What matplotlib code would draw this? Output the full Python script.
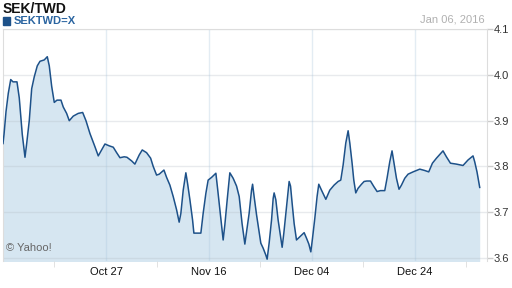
import matplotlib
matplotlib.use('Agg')
import matplotlib.pyplot as plt

# 交易日序号（从 Oct 07 起算）及 SEK/TWD 汇率
t = [0.0, 0.14, 0.41, 0.72, 1.05, 1.36, 1.90, 2.21, 2.62, 2.99, 3.22, 3.57,
     3.90, 4.25, 4.66, 5.03, 5.61, 6.02, 6.29, 6.62, 6.97, 7.34, 7.88, 8.19,
     8.65, 9.01, 9.55, 10.23, 10.83, 11.28, 11.82, 12.50, 12.95, 13.41, 13.86,
     14.44, 14.99, 15.45, 15.90, 16.48, 16.85, 17.49, 17.93, 18.52, 18.93,
     19.52, 20.07, 20.42, 20.88, 21.24, 21.88, 22.24, 22.69, 23.14, 23.60,
     23.95, 24.18, 24.50, 24.86, 25.09, 25.41, 25.77, 25.95, 26.90, 27.21,
     27.58, 27.89, 28.36, 28.94, 29.17, 29.48, 29.93, 30.16, 30.48, 30.84,
     31.29, 31.75, 32.11, 32.50, 32.88, 33.11, 33.46, 33.79, 33.93, 34.14,
     34.47, 34.82, 35.05, 35.37, 35.73, 35.91, 36.18, 36.51, 36.73, 36.86,
     37.09, 37.40, 37.73, 37.95, 38.18, 38.55, 38.90, 39.09, 39.31, 39.58,
     39.90, 40.35, 40.94, 41.26, 41.58, 41.85, 42.08, 42.39, 42.70, 42.93,
     43.30, 43.89, 44.43, 45.01, 45.56, 45.92, 46.24, 46.60, 46.92, 47.15,
     47.46, 47.69, 47.96, 48.27, 48.74, 49.09, 49.46, 49.96, 50.41, 50.86,
     51.32, 51.90, 52.21, 52.58, 52.89, 53.13, 53.49, 53.84, 54.17, 54.62,
     55.07, 55.75, 56.66, 57.34, 57.88, 58.38, 58.93, 59.82, 60.28, 60.83,
     61.64, 62.54, 63.22, 63.90, 64.13, 64.44, 64.81]
rate = [3.850, 3.870, 3.920, 3.960, 3.990, 3.985, 3.985, 3.950, 3.870, 3.820,
        3.850, 3.900, 3.970, 3.996, 4.020, 4.030, 4.033, 4.040, 4.020, 3.975,
        3.940, 3.945, 3.945, 3.930, 3.916, 3.900, 3.910, 3.916, 3.918, 3.900,
        3.872, 3.843, 3.823, 3.836, 3.849, 3.845, 3.842, 3.830, 3.819, 3.821,
        3.820, 3.812, 3.805, 3.825, 3.836, 3.830, 3.818, 3.800, 3.781, 3.783,
        3.792, 3.776, 3.759, 3.734, 3.705, 3.678, 3.697, 3.748, 3.786, 3.763,
        3.727, 3.683, 3.654, 3.654, 3.697, 3.741, 3.770, 3.776, 3.785, 3.752,
        3.705, 3.639, 3.672, 3.727, 3.786, 3.774, 3.757, 3.734, 3.675, 3.630,
        3.657, 3.697, 3.748, 3.761, 3.734, 3.694, 3.657, 3.632, 3.621, 3.606,
        3.597, 3.632, 3.683, 3.730, 3.742, 3.727, 3.683, 3.646, 3.623, 3.654,
        3.712, 3.767, 3.757, 3.719, 3.675, 3.639, 3.646, 3.655, 3.643, 3.630,
        3.613, 3.643, 3.686, 3.734, 3.761, 3.748, 3.728, 3.748, 3.759, 3.767,
        3.770, 3.803, 3.851, 3.878, 3.851, 3.807, 3.770, 3.742, 3.752, 3.761,
        3.767, 3.768, 3.768, 3.756, 3.745, 3.747, 3.747, 3.774, 3.810, 3.834,
        3.810, 3.774, 3.750, 3.759, 3.774, 3.783, 3.788, 3.794, 3.791, 3.788,
        3.807, 3.818, 3.834, 3.821, 3.807, 3.805, 3.802, 3.814, 3.823, 3.810,
        3.788, 3.754]

major_ticks = [14, 28, 42, 56]
major_labels = ['Oct 27', 'Nov 16', 'Dec 04', 'Dec 24']
minor_ticks = [7, 21, 35, 49, 63]
y_ticks = [3.6, 3.7, 3.8, 3.9, 4.0, 4.1]

plt.rcParams['font.family'] = ['Liberation Sans', 'DejaVu Sans']

fig = plt.figure(figsize=(5.12, 2.88), dpi=100)
ax = fig.add_axes([3 / 512, 27 / 288, 484 / 512, 231.7 / 288])

ax.fill_between(t, rate, 3.5, color='#d6e6f1', lw=0, zorder=1)
ax.plot(t, rate, color='#1d5189', lw=1.1, zorder=3)

ax.set_xlim(0, 65.8)
ax.set_ylim(3.593, 4.1)

# 网格：半透明，叠在填充上面会稍微深一点
for yv in y_ticks:
    ax.axhline(yv, color='#b4bcc4', alpha=0.3, lw=1, zorder=2)
for xv in major_ticks:
    ax.axvline(xv, color='#a8c4dc', alpha=0.32, lw=1, zorder=2)

ax.set_xticks(major_ticks)
ax.set_xticklabels(major_labels)
ax.set_xticks(minor_ticks, minor=True)
ax.tick_params(axis='x', which='major', length=0, pad=4, labelsize=8, colors='#111111')
ax.tick_params(axis='x', which='minor', length=4, color='#dddddd')

ax.yaxis.tick_right()
ax.set_yticks(y_ticks)
ax.set_yticklabels([f'{v:.1f}' for v in y_ticks])
ax.tick_params(axis='y', length=4, width=1, color='#cccccc', pad=1, labelsize=8,
               labelcolor='#333333')

for s in ['top', 'left', 'right']:
    ax.spines[s].set_color('#dddddd')
ax.spines['bottom'].set_visible(False)

fig.text(3 / 512, 1 - 9 / 288, 'SEK/TWD', fontsize=10, fontweight='bold',
         color='#111111', va='center', ha='left')
fig.patches.append(plt.Rectangle((3 / 512, 1 - 24.5 / 288), 6.5 / 512, 7 / 288,
                                 transform=fig.transFigure, color='#1d5189'))
fig.text(14 / 512, 1 - 21 / 288, 'SEKTWD=X', fontsize=8, fontweight='bold',
         color='#2a64a0', va='center', ha='left')
fig.text(485 / 512, 1 - 19 / 288, 'Jan 06, 2016', fontsize=8, color='#b0b0b0',
         va='center', ha='right')
ax.text(0.007, 0.055, '© Yahoo!', transform=ax.transAxes, fontsize=8,
        color='#666666', va='center', ha='left', zorder=4)

fig.savefig('out.png', dpi=100, facecolor='white')
